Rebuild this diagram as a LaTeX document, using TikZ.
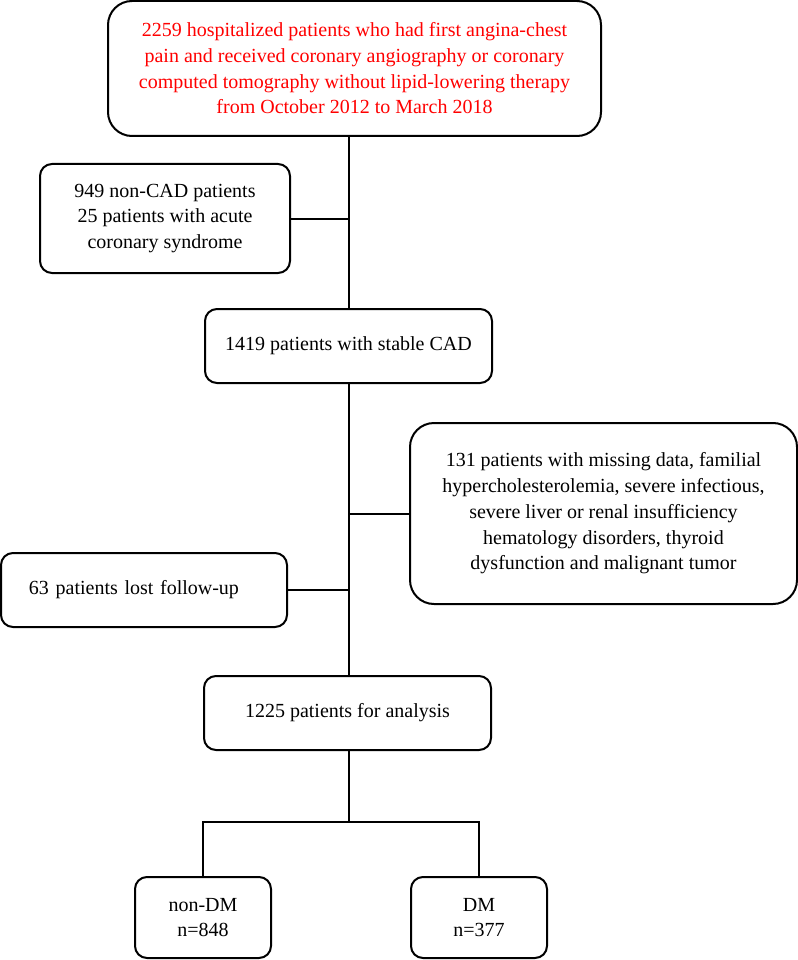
\documentclass[tikz,border=0pt]{standalone}
\usepackage{fontspec}
\setmainfont{Liberation Serif}[Ligatures=TeX]
\newfontfamily\flowfont{Liberation Serif}
\usetikzlibrary{positioning}

\begin{document}
\begin{tikzpicture}[x=1pt, y=-1pt, every node/.style={font=\flowfont\fontsize{20}{25.7}\selectfont, align=center}]

    \tikzset{
        box/.style={draw, line width=2pt, rounded corners=12pt, inner sep=0pt},
        bigbox/.style={box, rounded corners=24pt},
        link/.style={line width=2pt}
    }

    \useasboundingbox (0,0) rectangle (797,960);

    % enrolled patients
    \node[bigbox, minimum width=493pt, minimum height=135pt, text=red] (enrolled) at (354.5,68.5)
        {2259 hospitalized patients who had first angina-chest\\
         pain and received coronary angiography or coronary\\
         computed tomography without lipid-lowering therapy\\
         from October 2012 to March 2018};

    % non-CAD
    \node[box, minimum width=250pt, minimum height=109pt] (noncad) at (165,218.5)
        {949 non-CAD patients\\ 25 patients with acute\\ coronary syndrome};

    % stable CAD
    \node[box, minimum width=287pt, minimum height=74pt] (stable) at (348.5,346)
        {1419 patients with stable CAD};

    % excluded
    \node[bigbox, minimum width=387pt, minimum height=181pt] (excluded) at (603.5,513.5)
        {131 patients with missing data, familial\\
         hypercholesterolemia, severe infectious,\\
         severe liver or renal insufficiency\\
         hematology disorders, thyroid\\
         dysfunction and malignant tumor};

    % lost
    \node[box, minimum width=286pt, minimum height=74pt, text width=270pt, align=left] (lost) at (144,590)
        {\hspace*{20pt}63 patients lost follow-up};

    % analysis
    \node[box, minimum width=287pt, minimum height=74pt] (analysis) at (347.5,713)
        {1225 patients for analysis};

    % DM groups
    \node[box, minimum width=136pt, minimum height=81pt] (nondm) at (203,917.5) {non-DM\\ n=848};
    \node[box, minimum width=136pt, minimum height=81pt] (dm) at (479,917.5) {DM\\ n=377};

    % trunk
    \draw[link] (stable.north |- enrolled.south) -- (stable.north);
    \draw[link] (noncad.east) -- (noncad.east -| stable.north);
    \draw[link] (stable.south) -- (analysis.north -| stable.south);
    \draw[link] (excluded.west) -- (excluded.west -| stable.south);
    \draw[link] (lost.east) -- (lost.east -| stable.south);

    % split
    \coordinate (split) at (348.5,822);
    \draw[link] (analysis.south -| split) -- (split);
    \draw[link] (nondm.north) |- (split) -| (dm.north);

\end{tikzpicture}
\end{document}
